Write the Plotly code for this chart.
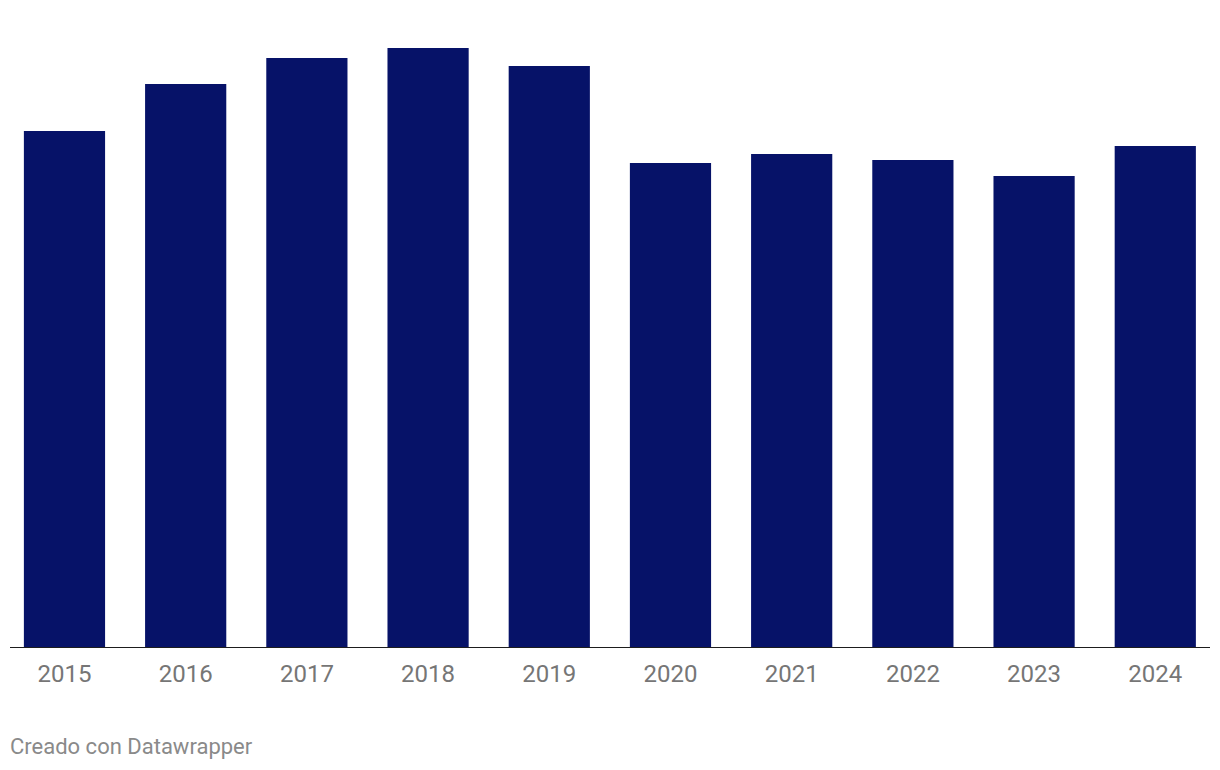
import plotly.graph_objects as go

years = ["2015", "2016", "2017", "2018", "2019", "2020", "2021", "2022", "2023", "2024"]
values = [517, 564, 590, 600, 582, 485, 494, 488, 472, 502]

bar_color = "#061268"
# page has an 8px body margin; figure sized to fit inside the window
W, H = 1212, 762
ml, mr, mt, mb = 0, 0, 12, 122
plot_w = W - ml - mr
plot_h = H - mt - mb

fig = go.Figure(go.Bar(
    x=years, y=values, marker=dict(color=bar_color, line=dict(width=0)),
    width=0.67, hoverinfo="x+y",
))

fig.update_layout(
    width=W, height=H,
    margin=dict(l=ml, r=mr, t=mt, b=mb, pad=0),
    paper_bgcolor="white", plot_bgcolor="white",
    showlegend=False,
    font=dict(family="Roboto", color="#767676"),
    xaxis=dict(type="category", range=[-0.466, 9.534], showgrid=False, zeroline=False,
               showline=False, ticks="", tickfont=dict(size=24, color="#767676", family="Roboto"),
               ticklabelstandoff=9),
    yaxis=dict(range=[0, plot_h], visible=False, showgrid=False, zeroline=False),
    shapes=[dict(type="line", xref="paper", yref="y",
                 x0=2 / plot_w, x1=1202 / plot_w, y0=0, y1=0,
                 line=dict(color="#1d1d1d", width=2))],
    annotations=[dict(text="Creado con Datawrapper", xref="paper", yref="paper",
                      x=0, y=(640 - 738) / plot_h, xanchor="left", yanchor="middle",
                      showarrow=False, font=dict(size=22, color="#8a8a8a", family="Roboto"))],
)

fig.write_html("out.html")
